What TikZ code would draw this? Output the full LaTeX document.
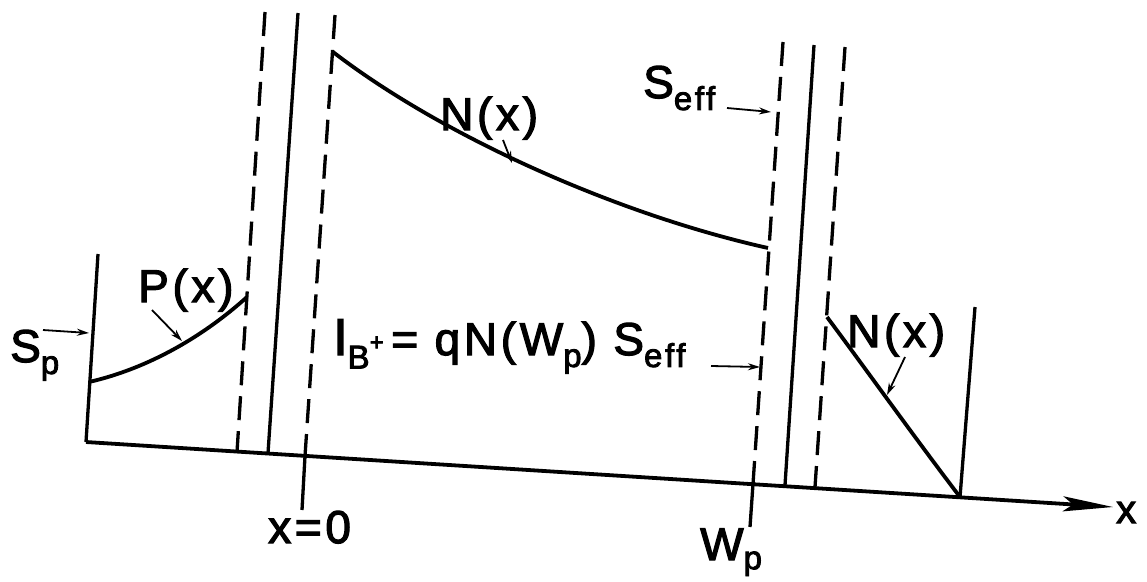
\documentclass[tikz,border=0pt]{standalone}
\usepackage{fontspec}
\setmainfont{Liberation Sans}[LetterSpace=8,FakeBold=2.6]
\usetikzlibrary{arrows.meta}
\newcommand{\lowsub}[1]{\raisebox{-0.26em}{\fontsize{33}{33}\selectfont #1}}
\begin{document}
\begin{tikzpicture}[x=1pt,y=-1pt,
  wall/.style={line width=3.3pt},
  dash wall/.style={line width=3.3pt,dash pattern=on 24pt off 11pt},
  curve/.style={line width=3.8pt},
  pointer/.style={line width=1.8pt,-{Stealth[length=12pt,width=7pt]}},
  lbl/.style={inner sep=0pt,anchor=base west,font=\fontsize{46}{46}\selectfont}]
\useasboundingbox (0,0) rectangle (1147,581);
% coordinates
\coordinate (o) at (86,442);
\coordinate (xend) at (1113,507);
\coordinate (spt) at (98,254);
\coordinate (d1t) at (265,12);  \coordinate (d1b) at (237,452);
\coordinate (s2t) at (298,13);  \coordinate (s2b) at (268,453);
\coordinate (d3t) at (335,15);  \coordinate (d3m) at (305,456); \coordinate (d3b) at (302,510);
\coordinate (wpt) at (783,42);  \coordinate (wpm) at (753,484); \coordinate (wpb) at (750,527);
\coordinate (s4t) at (814,45);  \coordinate (s4b) at (785,485);
\coordinate (d5t) at (845,47);  \coordinate (d5b) at (815,487);
\coordinate (rwt) at (975,307); \coordinate (rwb) at (960,497);
\coordinate (p0) at (89,382);   \coordinate (p1) at (247,297);
\coordinate (n0) at (333,52);   \coordinate (n1) at (768,248);
\coordinate (m0) at (827,317);
% axis
\draw[line width=3.8pt,-{Stealth[length=50pt,width=15pt,inset=10pt]}] (o) -- (xend);
% walls
\draw[wall] (spt) -- (o);
\draw[dash wall] (d1t) -- (d1b);
\draw[wall] (s2t) -- (s2b);
\draw[dash wall] (d3t) -- (d3m);
\draw[wall] (d3m) -- (d3b);
\draw[dash wall] (wpt) -- (wpm);
\draw[wall] (wpm) -- (wpb);
\draw[wall] (s4t) -- (s4b);
\draw[dash wall] (d5t) -- (d5b);
\draw[wall] (rwt) -- (rwb);
% curves
\draw[curve] (p0) .. controls (150,368) and (205,335) .. (p1);
\draw[curve] (n0) .. controls (445,138) and (620,215) .. (n1);
\draw[curve] (m0) .. controls (865,368) and (915,438) .. (rwb);
% labels
\node[lbl] (sp) at (10,362) {S\lowsub{p}};
\node[lbl] (px) at (138,302) {P(x)};
\node[lbl] (nx) at (440,130) {N(x)};
\node[lbl] (se) at (643,98) {S\lowsub{eff}};
\node[lbl] (form) at (333,355) {\fontsize{52}{52}\selectfont I\lowsub{B\raisebox{0.55em}{\fontsize{24}{24}\selectfont +}}\fontsize{46}{46}\selectfont\,= qN(W\lowsub{p}) S\lowsub{eff}};
\node[lbl] (wp) at (700,560) {W\raisebox{-0.2em}{\fontsize{33}{33}\selectfont p}};
\node[lbl] (x0) at (268,543) {x=0};
\node[lbl] (nx2) at (847,347) {N(x)};
\node[lbl,font=\fontsize{40}{40}\selectfont] (xl) at (1116,523) {x};
% pointers
\coordinate (a1s) at (43,330);  \coordinate (a1e) at (89,333);
\coordinate (a2s) at (152,310); \coordinate (a2e) at (182,341);
\coordinate (a3s) at (503,140); \coordinate (a3e) at (512,163);
\coordinate (a4s) at (727,108); \coordinate (a4e) at (771,112);
\coordinate (a5s) at (711,366); \coordinate (a5e) at (760,367);
\coordinate (a6s) at (905,357); \coordinate (a6e) at (887,395);
\draw[pointer] (a1s) -- (a1e);
\draw[pointer] (a2s) -- (a2e);
\draw[pointer] (a3s) -- (a3e);
\draw[pointer] (a4s) -- (a4e);
\draw[pointer] (a5s) -- (a5e);
\draw[pointer] (a6s) -- (a6e);
\end{tikzpicture}
\end{document}
